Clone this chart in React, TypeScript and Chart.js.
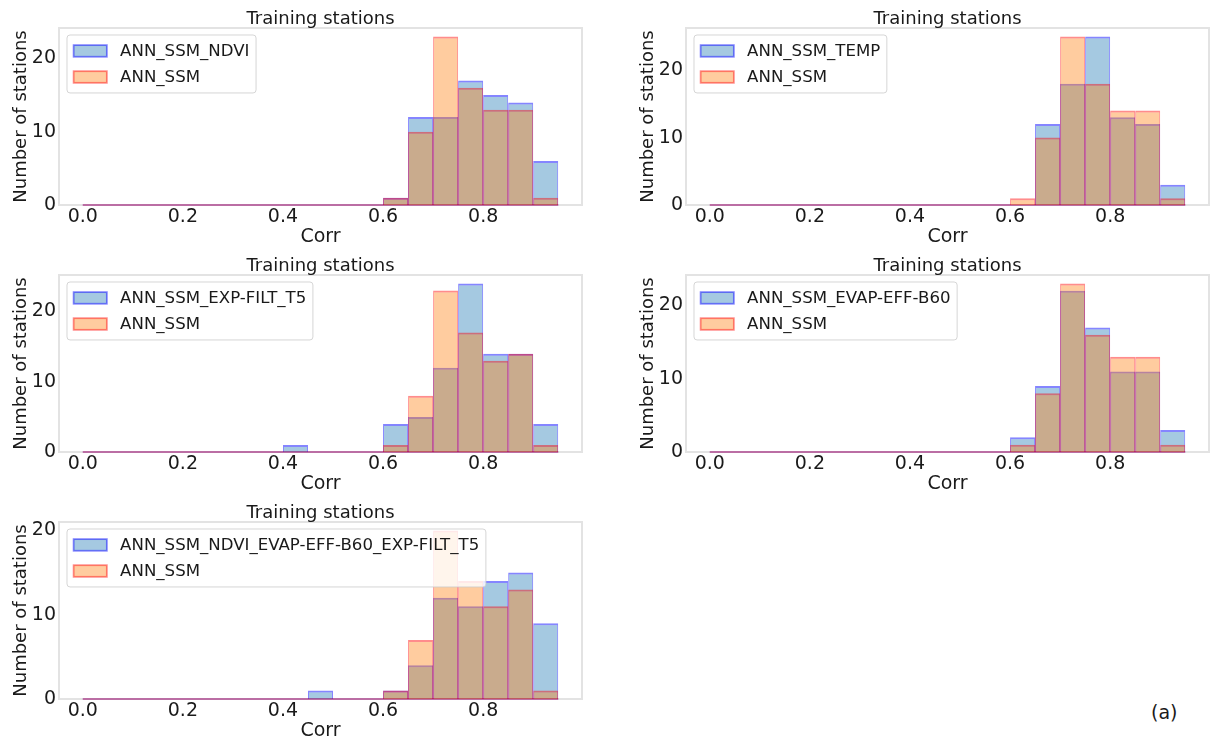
import React, { useEffect, useRef } from 'react';
import { Chart, registerables } from 'chart.js';

Chart.register(...registerables);

// ---------------- data ----------------
const binEdges = [0, 0.05, 0.1, 0.15, 0.2, 0.25, 0.3, 0.35, 0.4, 0.45, 0.5, 0.55, 0.6, 0.65, 0.7, 0.75, 0.8, 0.85, 0.9, 0.95];

const xTickValues = [0, 0.2, 0.4, 0.6, 0.8];
const xTickLabels = ['0.0', '0.2', '0.4', '0.6', '0.8'];
const yTickValues = [0, 10, 20];

const panelTitle = 'Training stations';
const xAxisTitle = 'Corr';
const yAxisTitle = 'Number of stations';
const referenceLabel = 'ANN_SSM';
const figureTag = '(a)';

const labelNdvi = 'ANN_SSM_NDVI';
const countsNdvi = [0, 0, 0, 0, 0, 0, 0, 0, 0, 0, 0, 0, 1, 12, 12, 17, 15, 14, 6];
const countsSsmNdvi = [0, 0, 0, 0, 0, 0, 0, 0, 0, 0, 0, 0, 1, 10, 23, 16, 13, 13, 1];

const labelTemp = 'ANN_SSM_TEMP';
const countsTemp = [0, 0, 0, 0, 0, 0, 0, 0, 0, 0, 0, 0, 0, 12, 18, 25, 13, 12, 3];
const countsSsmTemp = [0, 0, 0, 0, 0, 0, 0, 0, 0, 0, 0, 0, 1, 10, 25, 18, 14, 14, 1];

const labelExpFilt = 'ANN_SSM_EXP-FILT_T5';
const countsExpFilt = [0, 0, 0, 0, 0, 0, 0, 0, 1, 0, 0, 0, 4, 5, 12, 24, 14, 14, 4];
const countsSsmExpFilt = [0, 0, 0, 0, 0, 0, 0, 0, 0, 0, 0, 0, 1, 8, 23, 17, 13, 14, 1];

const labelEvap = 'ANN_SSM_EVAP-EFF-B60';
const countsEvap = [0, 0, 0, 0, 0, 0, 0, 0, 0, 0, 0, 0, 2, 9, 22, 17, 11, 11, 3];
const countsSsmEvap = [0, 0, 0, 0, 0, 0, 0, 0, 0, 0, 0, 0, 1, 8, 23, 16, 13, 13, 1];

const labelAll = 'ANN_SSM_NDVI_EVAP-EFF-B60_EXP-FILT_T5';
const countsAll = [0, 0, 0, 0, 0, 0, 0, 0, 0, 1, 0, 0, 1, 4, 12, 11, 14, 15, 9];
const countsSsmAll = [0, 0, 0, 0, 0, 0, 0, 0, 0, 0, 0, 0, 1, 7, 20, 14, 11, 13, 1];

const panels = [
  { label: labelNdvi, counts: countsNdvi, ref: countsSsmNdvi },
  { label: labelTemp, counts: countsTemp, ref: countsSsmTemp },
  { label: labelExpFilt, counts: countsExpFilt, ref: countsSsmExpFilt },
  { label: labelEvap, counts: countsEvap, ref: countsSsmEvap },
  { label: labelAll, counts: countsAll, ref: countsSsmAll },
];

// ---------------- layout / style ----------------
const layouts = [
  { x: 0, y: 0, w: 600, h: 247, padRight: 18 },
  { x: 627, y: 0, w: 583, h: 247, padRight: 1 },
  { x: 0, y: 247, w: 600, h: 247, padRight: 18 },
  { x: 627, y: 247, w: 583, h: 247, padRight: 1 },
  { x: 0, y: 494, w: 600, h: 247, padRight: 18 },
];

const FONT = '"DejaVu Sans", "Liberation Sans", sans-serif';
const TEXT = '#1a1a1a';
const BLUE_FILL = 'rgba(31,119,180,0.4)';
const BLUE_EDGE = 'rgba(0,0,255,0.48)';
const ORANGE_FILL = 'rgba(255,127,14,0.4)';
const RED_EDGE = 'rgba(255,0,0,0.45)';
const FRAME = '#e3e3e3';

function buildConfig(spec: any, lay: any) {
  const centers = binEdges.slice(0, -1).map((e, i) => (e + binEdges[i + 1]) / 2);
  const toPts = (c: number[]) => c.map((y, i) => ({ x: centers[i], y }));
  const first = binEdges[0];
  const last = binEdges[binEdges.length - 1];
  const span = last - first;
  const xMin = first - 0.05 * span;
  const xMax = last + 0.05 * span;
  const yMax = Math.max(...spec.counts, ...spec.ref) * 1.05;
  const baseline = [{ x: first, y: 0 }, { x: last, y: 0 }];

  const barCommon = {
    type: 'bar',
    grouped: false,
    categoryPercentage: 1,
    barPercentage: 1,
    inflateAmount: 0,
    borderSkipped: 'start',
    borderWidth: { top: 2, left: 1, right: 1, bottom: 0 },
  };

  const framePlugin = {
    id: 'frame',
    beforeDatasetsDraw(chart: any) {
      const { ctx, chartArea: a } = chart;
      ctx.save();
      ctx.strokeStyle = FRAME;
      ctx.lineWidth = 2;
      ctx.strokeRect(a.left, a.top, a.right - a.left, a.bottom - a.top);
      ctx.restore();
    },
  };

  const titlePlugin = {
    id: 'mplTitle',
    afterDraw(chart: any) {
      const { ctx, chartArea: a } = chart;
      ctx.save();
      ctx.font = `18px ${FONT}`;
      ctx.fillStyle = TEXT;
      ctx.textAlign = 'center';
      ctx.textBaseline = 'alphabetic';
      ctx.fillText(panelTitle, (a.left + a.right) / 2, a.top - 4);
      ctx.restore();
    },
  };

  const legendItems = [
    { text: spec.label, fill: BLUE_FILL, edge: BLUE_EDGE },
    { text: referenceLabel, fill: ORANGE_FILL, edge: RED_EDGE },
  ];

  const legendPlugin = {
    id: 'mplLegend',
    afterDraw(chart: any) {
      const { ctx, chartArea: a } = chart;
      const fs = 16.6;
      const pad = 0.4 * fs;
      const hw = 2 * fs;
      const hh = 0.7 * fs;
      const htp = 0.8 * fs;
      const rh = 18.6;
      const ls = 0.45 * fs;
      ctx.save();
      ctx.font = `${fs}px ${FONT}`;
      const tw = Math.max(...legendItems.map((it) => ctx.measureText(it.text).width));
      const x0 = a.left + 8;
      const y0 = a.top + 7;
      const w = pad + hw + htp + tw + pad;
      const h = pad + rh * 2 + ls + pad;
      ctx.beginPath();
      ctx.roundRect(x0, y0, w, h, 3);
      ctx.fillStyle = 'rgba(255,255,255,0.8)';
      ctx.fill();
      ctx.strokeStyle = 'rgba(204,204,204,0.8)';
      ctx.lineWidth = 1;
      ctx.stroke();
      legendItems.forEach((it, i) => {
        const cy = y0 + pad + rh / 2 + i * (rh + ls);
        ctx.fillStyle = it.fill;
        ctx.fillRect(x0 + pad, cy - hh / 2, hw, hh);
        ctx.strokeStyle = it.edge;
        ctx.lineWidth = 1.8;
        ctx.strokeRect(x0 + pad, cy - hh / 2, hw, hh);
        ctx.fillStyle = TEXT;
        ctx.textAlign = 'left';
        ctx.textBaseline = 'middle';
        ctx.fillText(it.text, x0 + pad + hw + htp, cy + 1);
      });
      ctx.restore();
    },
  };

  return {
    type: 'bar',
    data: {
      datasets: [
        { ...barCommon, label: spec.label, data: toPts(spec.counts), backgroundColor: BLUE_FILL, borderColor: BLUE_EDGE, order: 4 },
        { type: 'line', label: 'blue-base', data: baseline, borderColor: 'rgba(0,0,255,0.3)', borderWidth: 2, pointRadius: 0, pointHoverRadius: 0, fill: false, clip: false, order: 3 },
        { ...barCommon, label: referenceLabel, data: toPts(spec.ref), backgroundColor: ORANGE_FILL, borderColor: RED_EDGE, order: 2 },
        { type: 'line', label: 'red-base', data: baseline, borderColor: 'rgba(255,0,0,0.3)', borderWidth: 2, pointRadius: 0, pointHoverRadius: 0, fill: false, clip: false, order: 1 },
      ],
    },
    options: {
      responsive: false,
      animation: false,
      devicePixelRatio: 1,
      events: [],
      layout: { padding: { top: 28, left: 0, right: lay.padRight, bottom: 0 } },
      plugins: {
        legend: { display: false },
        tooltip: { enabled: false },
        title: { display: false },
      },
      scales: {
        x: {
          type: 'linear',
          min: xMin,
          max: xMax,
          offset: false,
          grid: { display: false, drawTicks: false, offset: false },
          border: { display: false },
          afterBuildTicks: (s: any) => {
            s.ticks = xTickValues.map((v) => ({ value: v }));
          },
          afterFit: (s: any) => {
            s.height = 42;
          },
          ticks: {
            autoSkip: false,
            maxRotation: 0,
            padding: 1,
            color: TEXT,
            font: { family: FONT, size: 19 },
            callback: (v: any) => {
              const i = xTickValues.indexOf(v);
              return i >= 0 ? xTickLabels[i] : '';
            },
          },
          title: {
            display: true,
            text: xAxisTitle,
            color: TEXT,
            font: { family: FONT, size: 19, lineHeight: '20px' },
            padding: { top: 0, bottom: 0 },
          },
        },
        y: {
          type: 'linear',
          min: 0,
          max: yMax,
          grid: { display: false, drawTicks: false },
          border: { display: false },
          afterBuildTicks: (s: any) => {
            s.ticks = yTickValues.map((v) => ({ value: v }));
          },
          afterFit: (s: any) => {
            s.width = 59;
          },
          ticks: {
            padding: 3,
            color: TEXT,
            font: { family: FONT, size: 19 },
            callback: (v: any) => String(v),
          },
          title: {
            display: true,
            text: yAxisTitle,
            color: TEXT,
            font: { family: FONT, size: 18, lineHeight: '20px' },
            padding: { top: 11, bottom: 0 },
          },
        },
      },
    },
    plugins: [framePlugin, titlePlugin, legendPlugin],
  };
}

function Panel({ spec, lay }: { spec: any; lay: any }) {
  const ref = useRef<HTMLCanvasElement>(null);
  useEffect(() => {
    const chart = new Chart(ref.current as HTMLCanvasElement, buildConfig(spec, lay) as any);
    return () => chart.destroy();
  }, []);
  return (
    <canvas
      ref={ref}
      width={lay.w}
      height={lay.h}
      style={{ position: 'absolute', left: lay.x, top: lay.y, width: lay.w, height: lay.h }}
    />
  );
}

export default function App() {
  return (
    <div
      style={{
        position: 'fixed',
        left: 0,
        top: 0,
        width: 1210,
        height: 742,
        background: '#ffffff',
        overflow: 'hidden',
      }}
    >
      {panels.map((p, i) => (
        <Panel key={i} spec={p} lay={layouts[i]} />
      ))}
      <div
        style={{
          position: 'absolute',
          left: 1151,
          top: 700,
          fontFamily: FONT,
          fontSize: 19,
          lineHeight: '24px',
          color: TEXT,
        }}
      >
        {figureTag}
      </div>
    </div>
  );
}
